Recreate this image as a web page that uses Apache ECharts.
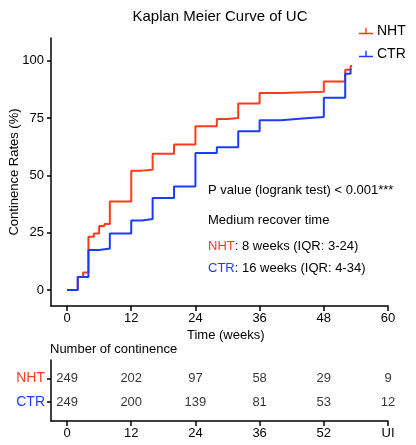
<!DOCTYPE html>
<html>
<head>
<meta charset="utf-8">
<script src="https://cdn.jsdelivr.net/npm/echarts@6/dist/echarts.min.js"></script>
<style>html,body{margin:0;padding:0;background:#fff}#c{width:416px;height:445px}</style>
</head>
<body>
<div id="c"></div>
<script>
// Kaplan-Meier step data (weeks, continence %)
var nhtTimes = [0, 2, 3, 4, 5, 6, 7, 8, 12, 14, 16, 20, 24, 28, 30, 32, 36, 40, 48, 52, 53, 53.3];
var nhtRates = [0, 5.7, 7.6, 23.2, 24.7, 27.9, 28.8, 38.6, 52.1, 52.5, 59.5, 63.5, 71.5, 74.6, 75.1, 81.4, 86.0, 86.5, 91.0, 96.1, 97.8, 97.8];
var ctrTimes = [0, 2, 4, 6, 8, 12, 14, 16, 20, 24, 28, 32, 36, 40, 44, 48, 52, 53, 53.2];
var ctrRates = [0, 5.7, 17.4, 18.1, 24.7, 30.3, 31.0, 40.1, 45.2, 59.8, 62.3, 69.3, 74.1, 74.9, 75.5, 83.9, 94.4, 96.2, 96.2];
var xTicks = [0, 12, 24, 36, 48, 60];
var yTicks = [0, 25, 50, 75, 100];
// Number at risk table
var riskTickLabels = ['0', '12', '24', '36', '52', 'UI'];
var nhtRisk = [249, 202, 97, 58, 29, 9];
var ctrRisk = [249, 200, 139, 81, 53, 12];
var groups = ['NHT', 'CTR'];

var RED = '#FF3B1E', BLUE = '#1C3BFF';
var FONT = 'Liberation Sans';
var ROW_NHT = 7.0, ROW_CTR = 3.1;

function pairs(xs, ys) { return xs.map(function (x, i) { return [x, ys[i]]; }); }
function riskPairs(vals, row) { return xTicks.map(function (x, i) { return [x, row, vals[i]]; }); }

var icon = 'path://M0,9h20v2h-20z M9,2h2v8h-2z';
var chart = echarts.init(document.getElementById('c'));
chart.setOption({
  animation: false,
  textStyle: { fontFamily: FONT },
  title: {
    text: 'Kaplan Meier Curve of UC', left: 215, top: 4, textAlign: 'center',
    textStyle: { fontFamily: FONT, fontSize: 15, fontWeight: 'normal', color: '#000' }
  },
  legend: {
    orient: 'vertical', left: 354, top: 19, itemWidth: 14, itemHeight: 10, itemGap: 9,
    textStyle: { fontFamily: FONT, fontSize: 14, color: '#000', padding: [0, 0, 0, -1] },
    data: [{ name: 'NHT', icon: icon }, { name: 'CTR', icon: icon }]
  },
  grid: [
    { left: 51, right: 28, top: 38, bottom: 139, outerBoundsMode: 'none', containLabel: false },
    { left: 51, right: 28, top: 360, bottom: 24, outerBoundsMode: 'none', containLabel: false }
  ],
  xAxis: [{
    gridIndex: 0, type: 'value', min: -3, max: 60,
    axisLine: { onZero: false, lineStyle: { color: '#000', width: 1.5 } },
    axisTick: { customValues: xTicks, length: 5, lineStyle: { color: '#000', width: 1.5 } },
    axisLabel: { customValues: xTicks, fontFamily: FONT, fontSize: 13, color: '#000', margin: 6 },
    splitLine: { show: false }
  }, {
    gridIndex: 1, type: 'value', min: -3, max: 60,
    axisLine: { onZero: false, lineStyle: { color: '#000', width: 1.5 } },
    axisTick: { customValues: xTicks, length: 5, lineStyle: { color: '#000', width: 1.5 } },
    axisLabel: {
      customValues: xTicks, fontFamily: FONT, fontSize: 13, color: '#000', margin: 6,
      formatter: function (v) { return riskTickLabels[xTicks.indexOf(v)]; }
    },
    splitLine: { show: false }
  }],
  yAxis: [{
    gridIndex: 0, type: 'value', min: -7, max: 110,
    axisLine: { show: true, onZero: false, lineStyle: { color: '#000', width: 1.5 } },
    axisTick: { show: true, customValues: yTicks, length: 4, lineStyle: { color: '#000', width: 1.5 } },
    axisLabel: { customValues: yTicks, fontFamily: FONT, fontSize: 13, color: '#000', margin: 7 },
    splitLine: { show: false }
  }, {
    gridIndex: 1, type: 'value', min: 0, max: 10,
    axisLine: { show: true, onZero: false, lineStyle: { color: '#000', width: 1.5 } },
    axisTick: { show: true, customValues: [ROW_CTR, ROW_NHT], length: 4, lineStyle: { color: '#000', width: 1.5 } },
    axisLabel: {
      customValues: [ROW_CTR, ROW_NHT], fontFamily: FONT, fontSize: 14, margin: 6,
      formatter: function (v) { return v === ROW_NHT ? '{r|' + groups[0] + '}' : '{b|' + groups[1] + '}'; },
      rich: { r: { color: RED, fontSize: 14, fontFamily: FONT }, b: { color: BLUE, fontSize: 14, fontFamily: FONT } }
    },
    splitLine: { show: false }
  }],
  series: [{
    name: 'NHT', type: 'line', step: 'end', xAxisIndex: 0, yAxisIndex: 0,
    data: pairs(nhtTimes, nhtRates), showSymbol: false, symbol: 'none',
    lineStyle: { color: RED, width: 2 }, itemStyle: { color: RED }, z: 3
  }, {
    name: 'CTR', type: 'line', step: 'end', xAxisIndex: 0, yAxisIndex: 0,
    data: pairs(ctrTimes, ctrRates), showSymbol: false, symbol: 'none',
    lineStyle: { color: BLUE, width: 2 }, itemStyle: { color: BLUE }, z: 4
  }, {
    type: 'scatter', xAxisIndex: 1, yAxisIndex: 1, symbolSize: 0,
    data: riskPairs(nhtRisk, ROW_NHT),
    label: { show: true, position: 'inside', fontFamily: FONT, fontSize: 13, color: '#000',
      formatter: function (p) { return p.value[2]; } }
  }, {
    type: 'scatter', xAxisIndex: 1, yAxisIndex: 1, symbolSize: 0,
    data: riskPairs(ctrRisk, ROW_CTR),
    label: { show: true, position: 'inside', fontFamily: FONT, fontSize: 13, color: '#000',
      formatter: function (p) { return p.value[2]; } }
  }],
  graphic: [
    { type: 'text', x: 14, y: 172, rotation: Math.PI / 2,
      style: { text: 'Continence Rates (%)', font: '13px "Liberation Sans"', fill: '#000', align: 'center', verticalAlign: 'middle' } },
    { type: 'text', left: 208, top: 184, style: { text: 'P value (logrank test) < 0.001***', font: '13px "Liberation Sans"', fill: '#000' } },
    { type: 'text', left: 208, top: 214, style: { text: 'Medium recover time', font: '13px "Liberation Sans"', fill: '#000' } },
    { type: 'text', left: 208, top: 240, style: { text: '{r|NHT}: 8 weeks (IQR: 3-24)', font: '13px "Liberation Sans"', fill: '#000',
      rich: { r: { fill: RED, font: '13px "Liberation Sans"' } } } },
    { type: 'text', left: 208, top: 262, style: { text: '{b|CTR}: 16 weeks (IQR: 4-34)', font: '13px "Liberation Sans"', fill: '#000',
      rich: { b: { fill: BLUE, font: '13px "Liberation Sans"' } } } },
    { type: 'text', left: 187, top: 329, style: { text: 'Time (weeks)', font: '13px "Liberation Sans"', fill: '#000' } },
    { type: 'text', left: 50, top: 343, style: { text: 'Number of continence', font: '13px "Liberation Sans"', fill: '#000' } }
  ]
});
</script>
</body>
</html>
